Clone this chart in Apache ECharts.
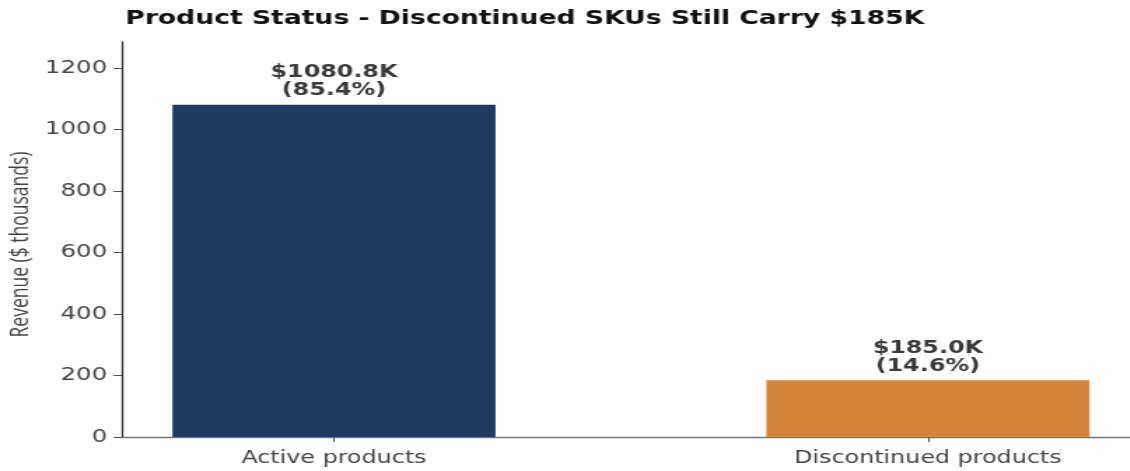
<!DOCTYPE html>
<html>
<head>
<meta charset="utf-8">
<script src="https://cdn.jsdelivr.net/npm/echarts@6/dist/echarts.min.js"></script>
<style>
  html, body { margin: 0; padding: 0; background: #fff; overflow: hidden; }
  #wrap { width: 1130px; height: 471px; overflow: hidden; }
  #chart { width: 807px; height: 471px; transform: scaleX(1.4); transform-origin: 0 0; }
</style>
</head>
<body>
<div id="wrap"><div id="chart"></div></div>
<script>
const categories = ['Active products', 'Discontinued products'];
const revenueK = [1080.8, 185.0];
const sharePct = [85.4, 14.6];
const barColors = ['#1f3a5f', '#d4843b'];
const yTicks = [0, 200, 400, 600, 800, 1000, 1200];
const titleText = 'Product Status - Discontinued SKUs Still Carry $185K';
const yName = 'Revenue ($ thousands)';

const chart = echarts.init(document.getElementById('chart'), null, { renderer: 'canvas' });
const option = {
  animation: false,
  backgroundColor: '#ffffff',
  title: {
    text: titleText,
    left: 84.5,
    top: 5,
    textStyle: { fontFamily: 'DejaVu Sans', fontWeight: 'bold', fontSize: 19, color: '#111' }
  },
  grid: { left: 87.1, right: 0, top: 42, bottom: 34, containLabel: false, outerBoundsMode: 'none' },
  xAxis: {
    type: 'value',
    min: -0.357,
    max: 1.34,
    splitLine: { show: false },
    axisLine: { show: true, onZero: false, lineStyle: { color: '#777', width: 1.3 } },
    axisTick: { show: true, customValues: [0, 1], length: 5, lineStyle: { color: '#555', width: 1 } },
    axisLabel: {
      customValues: [0, 1],
      formatter: v => categories[Math.round(v)] || '',
      margin: 13,
      fontFamily: 'DejaVu Sans', fontSize: 17, color: '#444'
    }
  },
  yAxis: {
    type: 'value',
    min: 0,
    max: 1285,
    name: yName,
    nameLocation: 'middle',
    nameGap: 63,
    nameMoveOverlap: false,
    nameTextStyle: { fontFamily: 'Open Sans', fontSize: 17.5, color: '#444', padding: [0, 10, 0, 0] },
    splitLine: { show: false },
    axisLine: { show: true, onZero: false, lineStyle: { color: '#333', width: 1.3 } },
    axisTick: { show: true, customValues: yTicks, length: 6, lineStyle: { color: '#555', width: 1 } },
    axisLabel: {
      customValues: yTicks,
      formatter: v => String(v),
      margin: 10.5,
      fontFamily: 'DejaVu Sans', fontSize: 17.5, color: '#444'
    }
  },
  series: [{
    type: 'bar',
    barWidth: 230.7,
    data: revenueK.map((v, i) => ({ value: [i, v], itemStyle: { color: barColors[i] } })),
    label: {
      show: true,
      position: 'top',
      distance: 5,
      formatter: p => '$' + revenueK[p.dataIndex].toFixed(1) + 'K\n(' + sharePct[p.dataIndex].toFixed(1) + '%)',
      fontFamily: 'DejaVu Sans', fontWeight: 'bold', fontSize: 17, lineHeight: 18, color: '#3a3a3a', align: 'center'
    }
  }]
};
chart.setOption(option);
</script>
</body>
</html>
